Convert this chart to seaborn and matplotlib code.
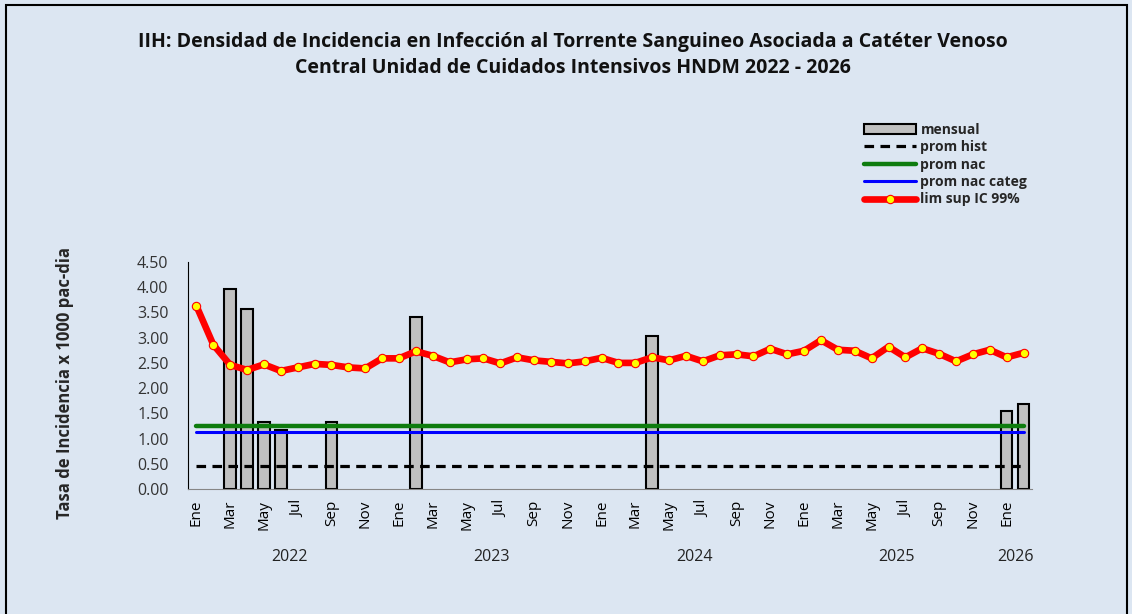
import numpy as np
import pandas as pd
import matplotlib.pyplot as plt
import matplotlib.transforms as mtransforms
from matplotlib.patches import Rectangle
import seaborn as sns

# Datos (Ene 2022 - Feb 2026)
years = [2022, 2023, 2024, 2025, 2026]
month_names = ["Ene", "Feb", "Mar", "Abr", "May", "Jun",
               "Jul", "Ago", "Sep", "Oct", "Nov", "Dic"]
months_per_year = [12, 12, 12, 12, 2]

lim_sup = [3.63, 2.86, 2.46, 2.36, 2.47, 2.34, 2.41, 2.48, 2.46, 2.41, 2.39, 2.59,
           2.59, 2.73, 2.64, 2.51, 2.57, 2.59, 2.49, 2.61, 2.55, 2.52, 2.49, 2.53,
           2.60, 2.50, 2.50, 2.61, 2.55, 2.64, 2.53, 2.65, 2.67, 2.63, 2.78, 2.67,
           2.74, 2.95, 2.76, 2.74, 2.59, 2.82, 2.61, 2.79, 2.68, 2.53, 2.67, 2.76,
           2.61, 2.70]

nan = np.nan
mensual = [nan, nan, 3.96, 3.57, 1.33, 1.17, nan, nan, 1.33, nan, nan, nan,
           nan, 3.41, nan, nan, nan, nan, nan, nan, nan, nan, nan, nan,
           nan, nan, nan, 3.03, nan, nan, nan, nan, nan, nan, nan, nan,
           nan, nan, nan, nan, nan, nan, nan, nan, nan, nan, nan, nan,
           1.54, 1.68]

prom_hist = 0.46
prom_nac = 1.24
prom_nac_categ = 1.13

# tabla
labels = []
for y, n in zip(years, months_per_year):
    labels += month_names[:n]
n = len(labels)
df = pd.DataFrame({"pos": np.arange(n), "mes": labels,
                   "mensual": mensual, "lim_sup": lim_sup})

bg = "#DCE6F2"
sns.set_style("white")
plt.rcParams["font.family"] = ["Open Sans", "DejaVu Sans"]

fig = plt.figure(figsize=(11.32, 6.14), dpi=100, facecolor=bg)
ax = fig.add_axes([188 / 1132, 1 - 489 / 614, 844 / 1132, 227 / 614])
ax.set_facecolor(bg)

# barras mensuales
sns.barplot(data=df.dropna(subset=["mensual"]), x="pos", y="mensual",
            native_scale=True, width=0.68, color="#C0C0C0",
            edgecolor="black", linewidth=1.5, saturation=1,
            label="mensual", ax=ax, zorder=2)

sns.lineplot(x=df["pos"], y=np.full(n, prom_hist), color="black",
             linewidth=2.3, linestyle=(0, (3, 2)), label="prom hist", ax=ax, zorder=3)
sns.lineplot(x=df["pos"], y=np.full(n, prom_nac), color="#0E7C0E",
             linewidth=3.2, label="prom nac", ax=ax, zorder=3)
sns.lineplot(x=df["pos"], y=np.full(n, prom_nac_categ), color="#0000FF",
             linewidth=2.2, label="prom nac categ", ax=ax, zorder=3)
sns.lineplot(data=df, x="pos", y="lim_sup", color="red", linewidth=4.8,
             marker="o", markersize=6, markerfacecolor="yellow",
             markeredgecolor="red", markeredgewidth=0.8,
             label="lim sup IC 99%", ax=ax, zorder=4)

ax.set_xlim(-0.5, n - 0.5)
ax.set_ylim(0, 4.5)
ax.set_yticks(np.arange(0, 4.51, 0.5))
ax.set_yticklabels([f"{v:.2f}" for v in np.arange(0, 4.51, 0.5)], fontsize=11.5, color="#333333")
ax.tick_params(axis="y", direction="out", length=4, pad=10, color="black", width=1)
for s in ["top", "right"]:
    ax.spines[s].set_visible(False)
ax.spines["left"].set_color("black")
ax.spines["bottom"].set_color("#868686")
ax.set_xlabel("")
ax.set_ylabel("")

# eje de categorias en dos niveles
starts = np.cumsum([0] + months_per_year[:-1])
year_edges = [s - 0.5 for s in starts]
ax.set_xticks(year_edges)
ax.set_xticklabels([])
ax.set_xticks(np.arange(-0.5, n, 1.0), minor=True)
ax.tick_params(axis="x", which="major", direction="out", length=57, width=1, color="black")
ax.tick_params(axis="x", which="minor", direction="out", length=32, width=1, color="#7F7F7F")

trans = mtransforms.blended_transform_factory(ax.transData, ax.transAxes)
for i, m in enumerate(labels):
    if m in ("Ene", "Mar", "May", "Jul", "Sep", "Nov"):
        ax.text(i, -0.048, m, rotation=90, ha="center", va="top",
                fontsize=11, color="black", transform=trans)
for s, cnt, y in zip(starts, months_per_year, years):
    ax.text(s + cnt / 2 - 0.5, -0.30, str(y), ha="center", va="center",
            fontsize=11.5, color="#222222", transform=trans)

# titulo y etiqueta
fig.text(0.506, 1 - 42 / 614,
         "IIH: Densidad de Incidencia en Infección al Torrente Sanguineo Asociada a Catéter Venoso",
         ha="center", va="center", fontsize=14, fontweight="bold", color="#111111")
fig.text(0.506, 1 - 68 / 614,
         "Central Unidad de Cuidados Intensivos HNDM 2022 - 2026",
         ha="center", va="center", fontsize=14, fontweight="bold", color="#111111")
fig.text(65 / 1132, 1 - 383 / 614, "Tasa de Incidencia x 1000 pac-dia",
         rotation=90, ha="center", va="center", fontsize=12, fontweight="bold")

# leyenda
handles, labs = ax.get_legend_handles_labels()
order = ["mensual", "prom hist", "prom nac", "prom nac categ", "lim sup IC 99%"]
hmap = dict(zip(labs, handles))
ax.legend().remove()
fig.legend([hmap[k] for k in order], order, loc="upper left",
           bbox_to_anchor=(858 / 1132, 1 - 117 / 614), frameon=False,
           prop={"weight": "bold", "size": 10}, handlelength=3.8,
           handletextpad=0.3, labelspacing=0.25, borderaxespad=0)

# borde de la figura
fig.patches.append(Rectangle((6 / 1132, -0.01), 1121 / 1132, 1 - 5 / 614 + 0.01,
                             transform=fig.transFigure, fill=False,
                             edgecolor="black", linewidth=1.5))

fig.savefig("out.png", dpi=100, facecolor=bg)
